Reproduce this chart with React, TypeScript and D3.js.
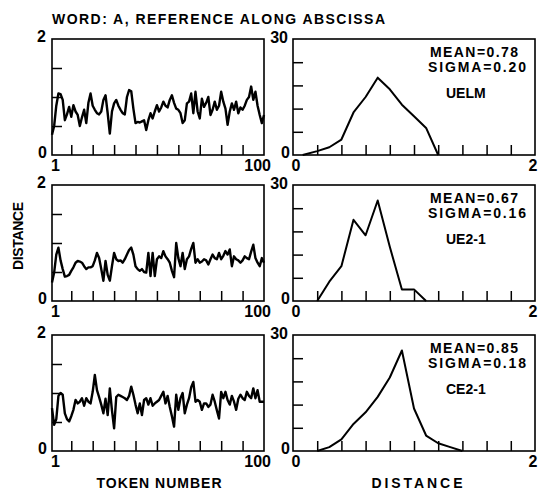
import * as d3 from 'd3';
import { useEffect, useRef } from 'react';

// token numbers on the abscissa of the left panels
const tokens = d3.range(1, 101);

// distance per token
const uelm = [
  0.35, 0.5, 0.85, 1.06, 1.05, 0.95, 0.6, 0.7, 0.83, 0.66,
  0.86, 0.75, 0.69, 0.5, 0.65, 0.78, 0.55, 0.9, 1.06, 0.85,
  0.78, 0.72, 0.7, 0.75, 0.95, 1.03, 0.72, 0.37, 0.75, 0.89,
  0.95, 0.85, 0.78, 0.72, 0.7, 1.0, 1.12, 1.1, 0.8, 0.55,
  0.57, 0.56, 0.58, 0.6, 0.43, 0.6, 0.72, 0.63, 0.75, 0.86,
  0.75, 0.82, 0.92, 0.85, 0.82, 0.95, 1.03, 0.9, 0.8, 0.78,
  0.72, 0.55, 0.6, 0.89, 0.92, 1.06, 0.72, 1.09, 0.75, 0.63,
  0.97, 0.83, 0.9, 1.0, 0.69, 0.78, 0.92, 0.78, 0.85, 1.09,
  0.92, 0.8, 0.52, 0.75, 0.89, 0.78, 0.92, 0.72, 0.82, 0.78,
  0.85, 0.95, 1.0, 1.18, 0.95, 1.09, 0.85, 0.69, 0.55, 0.69,
];
const ue21 = [
  0.32, 0.49, 0.8, 0.92, 0.7, 0.55, 0.42, 0.43, 0.45, 0.52,
  0.58, 0.66, 0.69, 0.68, 0.66, 0.6, 0.55, 0.58, 0.58, 0.6,
  0.7, 0.83, 0.74, 0.55, 0.35, 0.69, 0.45, 0.35, 0.6, 0.83,
  0.72, 0.69, 0.7, 0.66, 0.72, 0.8, 0.88, 0.92, 0.8, 0.6,
  0.55, 0.52, 0.55, 0.5, 0.49, 0.83, 0.43, 0.83, 0.43, 0.72,
  0.77, 0.74, 0.86, 0.77, 0.72, 0.66, 0.52, 0.41, 1.0, 0.74,
  0.6, 0.83, 0.55, 0.72, 0.77, 0.9, 1.0, 0.66, 0.72, 0.66,
  0.68, 0.72, 0.7, 0.63, 0.72, 0.8, 0.74, 0.72, 0.83, 0.72,
  0.78, 0.86, 0.8, 0.89, 0.6, 0.77, 0.72, 0.7, 0.66, 0.7,
  0.77, 0.74, 0.72, 0.85, 0.97, 0.74, 0.66, 0.6, 0.74, 0.66,
];
const ce21 = [
  0.74, 0.45, 0.55, 0.95, 1.0, 0.97, 0.65, 0.55, 0.51, 0.6,
  0.71, 0.88, 0.82, 0.85, 0.91, 0.78, 0.91, 0.85, 0.82, 1.02,
  1.31, 1.05, 0.93, 0.8, 0.65, 0.9, 0.62, 1.08, 0.7, 0.39,
  0.93, 0.97, 0.95, 0.93, 0.91, 0.88, 0.95, 1.11, 0.97, 0.8,
  0.65, 0.82, 0.62, 0.88, 0.91, 0.8, 0.91, 0.78, 0.82, 0.85,
  0.88, 0.95, 1.02, 0.82, 0.95, 0.76, 0.6, 0.42, 0.97, 0.71,
  0.91, 1.0, 0.65, 0.8, 0.91, 1.1, 1.19, 0.85, 0.88, 0.85,
  0.71, 0.82, 0.82, 0.76, 0.8, 0.97, 0.85, 0.7, 0.56, 1.02,
  0.91, 1.02, 0.88, 0.8, 0.95, 0.85, 0.71, 0.9, 0.97, 0.91,
  0.88, 1.02, 0.95, 0.91, 1.08, 0.91, 1.05, 0.85, 0.85, 0.85,
];

// histograms (frequency vs distance), right panels
const uelmBins = [0.08, 0.2, 0.3, 0.4, 0.5, 0.6, 0.7, 0.8, 0.9, 1.0, 1.1, 1.2];
const uelmCounts = [0, 1, 2, 4, 11, 15, 20, 17, 13, 10, 7, 0];
const ue21Bins = [0.2, 0.3, 0.4, 0.5, 0.6, 0.7, 0.8, 0.9, 1.0, 1.1];
const ue21Counts = [0, 5, 9, 21, 17, 26, 14, 3, 3, 0];
const ce21Bins = [0.2, 0.3, 0.4, 0.5, 0.6, 0.7, 0.8, 0.9, 1.0, 1.1, 1.2, 1.3, 1.4];
const ce21Counts = [0, 1, 3, 7, 10, 14, 19, 26, 11, 4, 2, 1, 0];

const labels = ['UELM', 'UE2-1', 'CE2-1'];
const means = ['0.78', '0.67', '0.85'];
const sigmas = ['0.20', '0.16', '0.18'];

// tick marks
const tokenTicks = [10, 20, 30, 40, 50, 60, 70, 80, 90];
const distTicks = [0.5, 1, 1.5];
const histXTicks = [0.2, 0.4, 0.6, 0.8, 1.0, 1.2, 1.4, 1.6, 1.8];
const countTicks = [6, 12, 18, 24];

const App = () => {
  const ref = useRef<SVGSVGElement>(null);

  useEffect(() => {
    if (!ref.current) return;
    const svg = d3.select(ref.current);
    svg.selectAll('*').remove();

    const font = "'Liberation Sans', Arial, sans-serif";
    const rowTops = [39, 185, 335];
    const ph = 116;
    const L = [52, 264];
    const R = [293, 535];
    const series = [uelm, ue21, ce21];
    const hists = [
      [uelmBins, uelmCounts],
      [ue21Bins, ue21Counts],
      [ce21Bins, ce21Counts],
    ];

    const txt = (x: number, y: number, s: string, anchor = 'start', size = 16) =>
      svg.append('text')
        .attr('x', x).attr('y', y)
        .attr('text-anchor', anchor)
        .style('font-family', font)
        .style('font-weight', 'bold')
        .style('font-size', `${size}px`)
        .text(s);

    // заголовок
    txt(52, 24, 'WORD: A, REFERENCE ALONG ABSCISSA', 'start', 14)
      .attr('textLength', 333).attr('lengthAdjust', 'spacing');

    const styleAxis = (g: any) => {
      g.select('.domain').remove();
      g.selectAll('line').attr('stroke', '#000').attr('stroke-width', 1.5);
    };

    rowTops.forEach((top, i) => {
      const bottom = top + ph;

      // левая панель: расстояние по номеру токена
      const x = d3.scaleLinear().domain([1, 100]).range(L);
      const y = d3.scaleLinear().domain([0, 2]).range([bottom, top]);

      svg.append('rect')
        .attr('x', L[0]).attr('y', top)
        .attr('width', L[1] - L[0]).attr('height', ph)
        .attr('fill', 'none').attr('stroke', '#000').attr('stroke-width', 1.6);

      svg.append('g').attr('transform', `translate(0,${bottom})`)
        .call(d3.axisBottom(x).tickValues(tokenTicks).tickSize(-10).tickFormat(() => ''))
        .call(styleAxis);
      svg.append('g').attr('transform', `translate(${L[0]},0)`)
        .call(d3.axisLeft(y).tickValues(distTicks).tickSize(-10).tickFormat(() => ''))
        .call(styleAxis);

      const line = d3.line<number>()
        .x((d, j) => x(tokens[j]))
        .y(d => y(d));
      svg.append('path')
        .datum(series[i])
        .attr('d', line)
        .attr('fill', 'none')
        .attr('stroke', '#000')
        .attr('stroke-width', 2.4)
        .attr('stroke-linejoin', 'round');

      txt(46, top + 3, '2', 'end');
      txt(47, bottom + 3, '0', 'end');
      txt(51, bottom + 16, '1', 'start');
      txt(271, bottom + 16, '100', 'end');

      // правая панель: гистограмма
      const hx = d3.scaleLinear().domain([0, 2]).range(R);
      const hy = d3.scaleLinear().domain([0, 30]).range([bottom, top]);

      svg.append('rect')
        .attr('x', R[0]).attr('y', top)
        .attr('width', R[1] - R[0]).attr('height', ph)
        .attr('fill', 'none').attr('stroke', '#000').attr('stroke-width', 1.6);

      svg.append('g').attr('transform', `translate(0,${bottom})`)
        .call(d3.axisBottom(hx).tickValues(histXTicks).tickSize(-10).tickFormat(() => ''))
        .call(styleAxis);
      svg.append('g').attr('transform', `translate(${R[0]},0)`)
        .call(d3.axisLeft(hy).tickValues(countTicks).tickSize(-10).tickFormat(() => ''))
        .call(styleAxis);

      const [bins, counts] = hists[i];
      const hline = d3.line<number>()
        .x((d, j) => hx(bins[j]))
        .y(d => hy(d));
      svg.append('path')
        .datum(counts)
        .attr('d', hline)
        .attr('fill', 'none')
        .attr('stroke', '#000')
        .attr('stroke-width', 2)
        .attr('stroke-linejoin', 'round');

      txt(288, top + 4, '30', 'end');
      txt(290, bottom + 3, '0', 'end');
      txt(296, bottom + 16, '0', 'middle');
      txt(533, bottom + 16, '2', 'middle');

      txt(430, top + 18, `MEAN=${means[i]}`, 'start', 14).attr('textLength', 88).attr('lengthAdjust', 'spacing');
      txt(428, top + 33, `SIGMA=${sigmas[i]}`, 'start', 14).attr('textLength', 98).attr('lengthAdjust', 'spacing');
      txt(446, top + 59, labels[i], 'start', 14);
    });

    // подписи осей
    txt(0, 0, 'DISTANCE', 'middle', 14)
      .attr('transform', 'translate(23,236) rotate(-90)')
      .attr('textLength', 68).attr('lengthAdjust', 'spacing');
    txt(159, 488, 'TOKEN NUMBER', 'middle', 14)
      .attr('textLength', 125).attr('lengthAdjust', 'spacing');
    txt(417, 488, 'DISTANCE', 'middle', 14)
      .attr('textLength', 91).attr('lengthAdjust', 'spacing');
  }, []);

  return (
    <svg ref={ref} width="542" height="491"
      style={{ position: 'absolute', left: 0, top: 0, background: '#fff' }}></svg>
  );
};

export default App;
